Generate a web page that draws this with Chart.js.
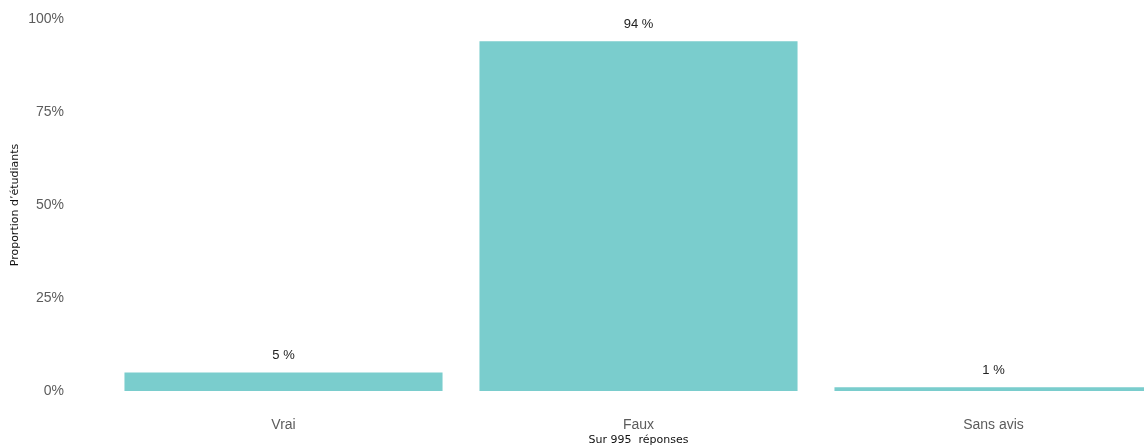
<!DOCTYPE html>
<html lang="fr">
<head>
<meta charset="utf-8">
<title>Vrai / Faux</title>
<script src="https://cdn.jsdelivr.net/npm/chart.js@4/dist/chart.umd.min.js"></script>
<style>
  html, body { margin: 0; padding: 0; background: #fff; overflow: hidden; }
  #wrap { position: relative; width: 1172px; height: 448px; }
</style>
</head>
<body>
<div id="wrap"><canvas id="chart"></canvas></div>
<script>
  'use strict';

  /* --- Data --- */
  const categories = ['Vrai', 'Faux', 'Sans avis'];
  const shares = [5, 94, 1];
  const yTicks = [0, 25, 50, 75, 100];
  const responseCount = 995;

  const BAR_COLOR = '#7ACDCD';
  const TICK_COLOR = '#5c5c5c';
  const FONT = "'Liberation Sans', Arial, sans-serif";
  const TITLE_FONT = "'DejaVu Sans', Verdana, sans-serif";

  /* --- Value labels above each bar --- */
  const barLabels = {
    id: 'barLabels',
    afterDatasetsDraw(chart) {
      const ctx = chart.ctx;
      const meta = chart.getDatasetMeta(0);
      ctx.save();
      ctx.font = '13px ' + FONT;
      ctx.fillStyle = '#222';
      ctx.textAlign = 'center';
      ctx.textBaseline = 'middle';
      meta.data.forEach((bar, i) => {
        ctx.fillText(shares[i] + ' %', bar.x, bar.y - 16.5);
      });
      ctx.restore();
    }
  };

  new Chart(document.getElementById('chart'), {
    type: 'bar',
    data: {
      labels: categories,
      datasets: [{
        data: shares,
        backgroundColor: BAR_COLOR,
        borderWidth: 0,
        categoryPercentage: 1,
        barPercentage: 0.896
      }]
    },
    options: {
      responsive: true,
      maintainAspectRatio: false,
      animation: false,
      layout: { padding: { top: 19, right: 1, left: 0, bottom: 0 } },
      plugins: {
        legend: { display: false },
        tooltip: { enabled: false }
      },
      scales: {
        x: {
          grid: { display: false, drawTicks: false },
          border: { display: false },
          ticks: { color: TICK_COLOR, font: { family: FONT, size: 14 }, padding: 26 },
          title: {
            display: true,
            text: 'Sur ' + responseCount + '  réponses',
            color: '#111',
            font: { family: TITLE_FONT, size: 11 },
            padding: { top: 0, bottom: 1 }
          },
          afterFit(scale) { scale.height = 57; }
        },
        y: {
          min: 0,
          max: 100,
          grid: { display: false, drawTicks: false },
          border: { display: false },
          afterBuildTicks(scale) { scale.ticks = yTicks.map(v => ({ value: v })); },
          ticks: {
            color: TICK_COLOR,
            font: { family: FONT, size: 14 },
            padding: 42,
            callback: v => v + '%'
          },
          title: {
            display: true,
            text: 'Proportion d\u2019étudiants',
            color: '#111',
            font: { family: TITLE_FONT, size: 11 },
            padding: { top: 9, bottom: 0 }
          },
          // the wide label gap should not push the plot down from the top
          afterFit(scale) {
            scale.width = 106;
            scale.paddingTop = 0;
            scale.paddingBottom = 0;
          }
        }
      }
    },
    plugins: [barLabels]
  });
</script>
</body>
</html>
